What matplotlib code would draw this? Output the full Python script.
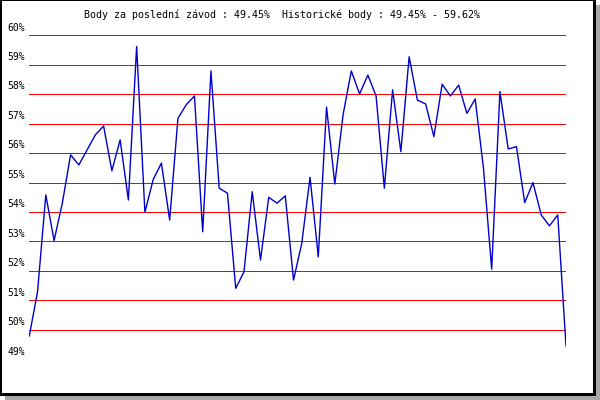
import matplotlib
matplotlib.use("Agg")
import matplotlib.pyplot as plt
from matplotlib.patches import Rectangle
from matplotlib.transforms import ScaledTranslation

# body for each race
body = [49.79, 51.3, 54.58, 53.03, 54.3, 55.94, 55.60, 56.11, 56.62, 56.92,
        55.40, 56.45, 54.41, 59.62, 53.99, 55.1, 55.66, 53.73, 57.18, 57.64,
        57.94, 53.33, 58.79, 54.81, 54.64, 51.41, 51.97, 54.69, 52.37, 54.50,
        54.30, 54.55, 51.69, 52.94, 55.18, 52.48, 57.56, 54.95, 57.3, 58.79,
        58.01, 58.65, 57.94, 54.81, 58.15, 56.05, 59.27, 57.80, 57.67, 56.56,
        58.34, 57.94, 58.31, 57.35, 57.84, 55.5, 52.06, 58.09, 56.14, 56.22,
        54.32, 55.00, 53.9, 53.53, 53.9, 49.45]
zavody = list(range(len(body)))
urovne = list(range(49, 61))
popisky = ["%d%%" % u for u in urovne]
titulek = "Body za poslední závod : 49.45%  Historické body : 49.45% - 59.62%"

W, H = 600, 400


def box(x, y, w, h):
    # pixel box from top-left -> figure fraction
    return (x / W, 1 - (y + h) / H), w / W, h / H


fig = plt.figure(figsize=(6, 4), dpi=100)
fig.patch.set_facecolor("white")

# shadow + black frame
for (x, y, w, h), c in [((5, 396, 595, 4), "#a8a8a8"), ((596, 5, 4, 395), "#a8a8a8"),
                        ((0, 0, 596, 396), "black"), ((2, 1, 591, 392), "white")]:
    xy, fw, fh = box(x, y, w, h)
    fig.add_artist(Rectangle(xy, fw, fh, transform=fig.transFigure,
                             facecolor=c, edgecolor="none", zorder=-10))

(l, b), aw, ah = box(29.3, 35.3, 536.7, 324)
ax = fig.add_axes([l, b, aw, ah])
ax.set_facecolor("none")
for s in ax.spines.values():
    s.set_visible(False)

for u in urovne:
    ax.axhline(u, color="#ff0000", lw=0.72, antialiased=False, zorder=1)

ax.plot(zavody, body, color="#0000cc", lw=1.0, zorder=2)

ax.set_xlim(0, len(body) - 1)
ax.set_ylim(49, 60)
ax.set_xticks([])
ax.set_yticks(urovne)
ax.set_yticklabels(popisky, fontsize=7, family="DejaVu Sans Mono")
ax.tick_params(axis="y", length=0, pad=3)
off = ScaledTranslation(0, 2 / 72, fig.dpi_scale_trans)
for t in ax.get_yticklabels():
    t.set_va("bottom")
    t.set_transform(t.get_transform() + off)

fig.text(282 / W, 1 - 15 / H, titulek, ha="center", va="center",
         fontsize=7.2, family="DejaVu Sans Mono")

fig.savefig("out.png", dpi=100)
